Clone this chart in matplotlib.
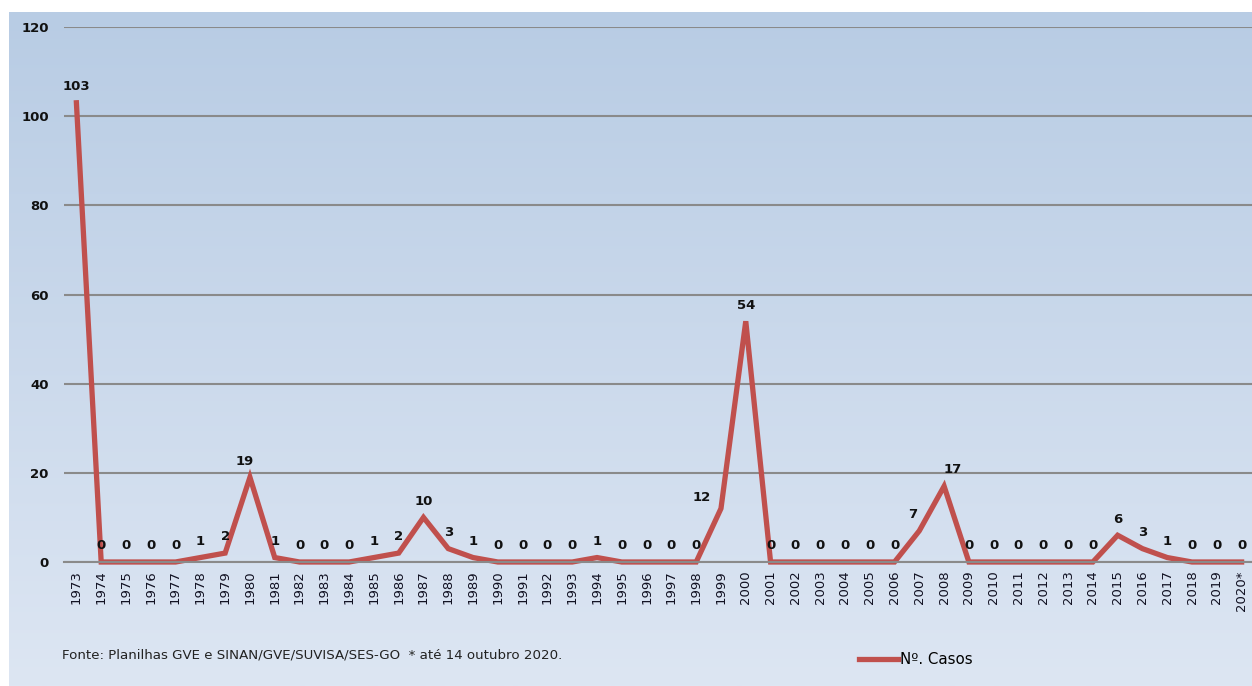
import numpy as np
import matplotlib
matplotlib.use("Agg")
import matplotlib.pyplot as plt
from matplotlib.colors import LinearSegmentedColormap

years = [str(y) for y in range(1973, 2020)] + ["2020*"]
casos = [103, 0, 0, 0, 0, 1, 2, 19, 1, 0, 0, 0, 1, 2, 10, 3, 1, 0, 0, 0,
         0, 1, 0, 0, 0, 0, 12, 54, 0, 0, 0, 0, 0, 0, 7, 17, 0, 0, 0, 0,
         0, 0, 6, 3, 1, 0, 0, 0]
yticks = [0, 20, 40, 60, 80, 100, 120]
serie_label = "Nº. Casos"
fonte = "Fonte: Planilhas GVE e SINAN/GVE/SUVISA/SES-GO  * até 14 outubro 2020."

W, H = 1252, 686
fig = plt.figure(figsize=(W / 100, H / 100), dpi=100)
fig.patch.set_facecolor("white")

# gradient background
bg = fig.add_axes([9 / W, 0, 1 - 9 / W, 1 - 12 / H])
cmap = LinearSegmentedColormap.from_list("g", ["#b8cce4", "#dde6f3"])
grad = np.linspace(0, 1, 256).reshape(-1, 1)
bg.imshow(grad, aspect="auto", cmap=cmap, extent=[0, 1, 0, 1], origin="upper")
bg.set_axis_off()

left, right = 64 / W, 1254 / W
top, bottom = 1 - 27 / H, 1 - 562 / H
ax = fig.add_axes([left, bottom, right - left, top - bottom])
ax.patch.set_alpha(0)
x = np.arange(len(years))
ax.set_xlim(-0.5, len(years) - 0.5)
ax.set_ylim(0, 120)
ax.set_yticks(yticks)
ax.yaxis.grid(True, color="#8a8a8a", linewidth=1.5)
ax.set_axisbelow(True)
for s in ["top", "right", "left"]:
    ax.spines[s].set_visible(False)
ax.spines["bottom"].set_color("#8a8a8a")
ax.spines["bottom"].set_linewidth(1.5)
ax.tick_params(axis="y", length=0, pad=11, labelsize=9.5, labelcolor="#111111")
for lbl in ax.get_yticklabels():
    lbl.set_fontweight("bold")
ax.set_xticks(x)
ax.set_xticklabels(years, rotation=90, fontsize=9.5, color="#111122")
ax.tick_params(axis="x", length=0, pad=6)

line, = ax.plot(x, casos, color="#c0504d", linewidth=3.8, solid_joinstyle="miter",
                label=serie_label, clip_on=False)

special = {26: (-14, -4), 34: (-5, 0), 35: (6, 0), 7: (-4, 0)}
for i, v in enumerate(casos):
    dx, dy = special.get(i, (0, 0))
    ax.annotate(str(v), (x[i], v), xytext=(dx, 7 + dy), textcoords="offset points",
                ha="center", va="bottom", fontsize=9.5, fontweight="bold", color="#111111",
                annotation_clip=False)

fig.text(62 / W, 1 - 655 / H, fonte, fontsize=9.6, color="#222222", va="center", ha="left")

# legend
fig.legend(handles=[line], labels=[serie_label], loc="center left",
           bbox_to_anchor=(853 / W, 1 - 660 / H), frameon=False, fontsize=10.8,
           handlelength=2.6, handletextpad=0.1, borderaxespad=0)

fig.savefig("out.png", dpi=100)
